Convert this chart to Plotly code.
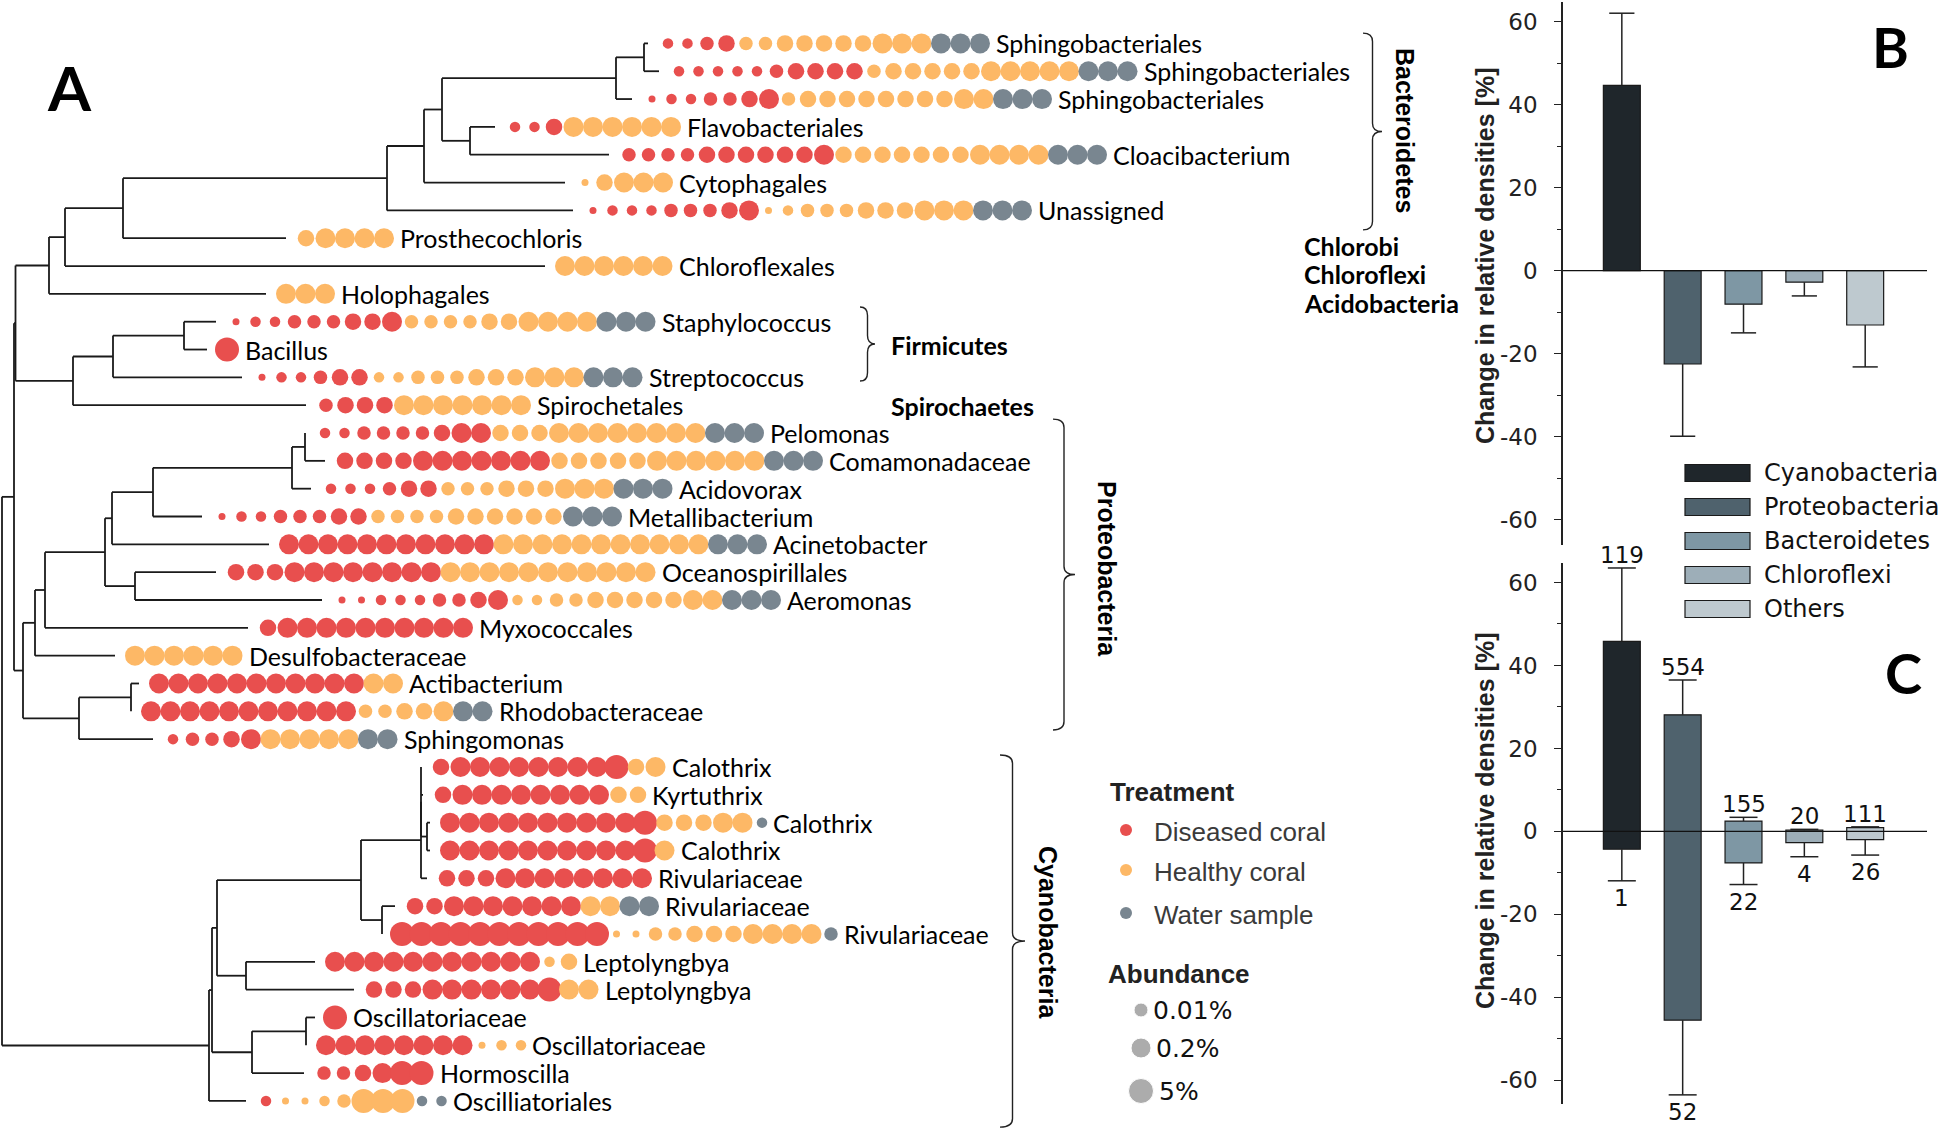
import plotly.graph_objects as go

W, H = 1946, 1129

# ---------------- Panel A data ----------------
leaf_names = ["Sphingobacteriales", "Sphingobacteriales", "Sphingobacteriales", "Flavobacteriales",
              "Cloacibacterium", "Cytophagales", "Unassigned", "Prosthecochloris", "Chloroflexales",
              "Holophagales", "Staphylococcus", "Bacillus", "Streptococcus", "Spirochetales",
              "Pelomonas", "Comamonadaceae", "Acidovorax", "Metallibacterium", "Acinetobacter",
              "Oceanospirillales", "Aeromonas", "Myxococcales", "Desulfobacteraceae", "Actibacterium",
              "Rhodobacteraceae", "Sphingomonas", "Calothrix", "Kyrtuthrix", "Calothrix", "Calothrix",
              "Rivulariaceae", "Rivulariaceae", "Rivulariaceae", "Leptolyngbya", "Leptolyngbya",
              "Oscillatoriaceae", "Oscillatoriaceae", "Hormoscilla", "Oscilliatoriales"]

# abundance classes per sample (1 = smallest ... 6 = largest), one string per leaf
diseased = ["2234", "2222234444", "1223345", "224", "33334444445", "", "122233345", "", "", "",
            "122333445", "6", "122344", "3444", "223333455", "44445555555", "222344", "12233344",
            "55555555555", "44455555555", "112223345", "45555555555", "", "55555555555",
            "55555555555", "23345", "4555555556", "455555555", "55555555556", "55555555556",
            "44455555555", "445555555", "66666666666", "55555555555", "4445555556", "6",
            "55555555", "334566", "2"]
healthy = ["3344444555", "34444455555", "34444444455", "555555", "44444445555", "14555",
           "12333444555", "45555", "555555", "555", "3333445555", "", "22333444555", "5555555",
           "44455555555", "44444555555", "333444555", "3333444444", "55555555555", "55555555555",
           "22334444455", "", "555555", "55", "33445", "55555", "45", "44", "44455", "5", "",
           "55", "11334445555", "24", "55", "", "122", "", "1123666"]
water = ["555", "555", "555", "", "555", "", "555", "", "", "", "555", "", "555", "", "555", "555",
         "555", "555", "555", "", "555", "", "", "", "55", "55", "", "", "2", "", "", "55", "3",
         "", "", "", "", "", "22"]

# tree: (depth, [children]) for nodes, (depth, leaf_index) for tips
TREE = (2, [
    (14, [
        (15.5, [
            (49, [
                (65, [
                    (123, [
                        (387, [
                            (424, [
                                (442, [
                                    (616, [
                                        (644, [(648, 0), (659, 1)]),
                                        (632, 2)]),
                                    (470, [(495, 3), (609, 4)])]),
                                (565, 5)]),
                            (573, 6)]),
                        (286, 7)]),
                    (545, 8)]),
                (266, 9)]),
            (73, [
                (113, [
                    (184, [(216, 10), (207, 11)]),
                    (242, 12)]),
                (306, 13)])]),
        (23, [
            (35, [
                (45, [
                    (105, [
                        (112, [
                            (153, [
                                (292, [
                                    (305, [(305, 14), (325, 15)]),
                                    (311, 16)]),
                                (202, 17)]),
                            (269, 18)]),
                        (135, [(216, 19), (322, 20)])]),
                    (248, 21)]),
                (115, 22)]),
            (79, [
                (131, [(139, 23), (131, 24)]),
                (153, 25)])])]),
    (209, [
        (212, [
            (217, [
                (361, [
                    (421, [
                        (421, [(421, 26), (423, 27), (427, [(430, 28), (430, 29)])]),
                        (427, 30)]),
                    (382, [(395, 31), (382, 32)])]),
                (246, [(315, 33), (354, 34)])]),
            (252, [
                (306, [(315, 35), (306, 36)]),
                (304, 37)])]),
        (246, 38)])])

clades = [("Bacteroidetes", -0.37, 6.70), ("Firmicutes", 9.47, 12.13),
          ("Proteobacteria", 13.5, 24.67), ("Cyanobacteria", 25.57, 38.94)]

# ---------------- Panel B / C data ----------------
groups = ["Cyanobacteria", "Proteobacteria", "Bacteroidetes", "Chloroflexi", "Others"]
group_colors = ["#1F262B", "#4F626D", "#7E97A4", "#9DAEB8", "#BEC9CF"]
b_change = [44.6, -22.5, -8.1, -2.8, -13.1]
b_whisker = [62.0, -39.9, -15.0, -6.1, -23.2]

c_high = [45.8, 28.1, 2.5, 0.3, 0.9]
c_low = [-4.3, -45.5, -7.6, -2.7, -2.0]
c_whisk_hi = [63.5, 36.5, 3.4, 0.5, 1.1]
c_whisk_lo = [-11.9, -63.5, -12.8, -6.1, -5.7]
c_n_hi = ["119", "554", "155", "20", "111"]
c_n_lo = ["1", "52", "22", "4", "26"]

# ---------------- styling constants ----------------
COL_D, COL_H, COL_W = "#E84F4E", "#FDB866", "#798690"
SIZE = {"1": 7, "2": 10.5, "3": 13.5, "4": 16.5, "5": 20, "6": 24}
DOT_GAP, DOT_STEP = 20, 19.5
ROW0, ROWSTEP = 43.4, 27.83
LINE = "#1A1A1A"

fig = go.Figure()

# ---- tree ----
tx, ty = [], []
tip = {}


def walk(node, parent_x):
    x, kids = node
    if isinstance(kids, int):
        y = kids
        tip[kids] = x
    else:
        ys = [walk(k, x) for k in kids]
        y = (ys[0] + ys[-1]) / 2
        tx.extend([x, x, None]); ty.extend([ys[0], ys[-1], None])
    if parent_x is not None:
        tx.extend([parent_x, x, None]); ty.extend([y, y, None])
    return y


walk(TREE, None)
fig.add_trace(go.Scatter(x=tx, y=ty, mode="lines", line=dict(color=LINE, width=1.8),
                         hoverinfo="skip", showlegend=False, xaxis="x", yaxis="y"))

# ---- dots ----
pts = {COL_D: ([], [], []), COL_H: ([], [], []), COL_W: ([], [], [])}
annotations = []
for i, name in enumerate(leaf_names):
    slots = [(COL_D, c) for c in diseased[i]] + [(COL_H, c) for c in healthy[i]] + \
            [(COL_W, c) for c in water[i]]
    last_x, last_s = tip[i], 0
    for k, (col, code) in enumerate(slots):
        x = tip[i] + DOT_GAP + k * DOT_STEP
        if code == "0":
            continue
        pts[col][0].append(x); pts[col][1].append(i); pts[col][2].append(SIZE[code])
        last_x, last_s = x, SIZE[code]
    annotations.append(dict(x=last_x + last_s / 2 + 4, y=i, xref="x", yref="y", text=name,
                            showarrow=False, xanchor="left", yanchor="middle",
                            font=dict(family="Lato", size=25, color="#000")))
for col, (xs, ys, ss) in pts.items():
    fig.add_trace(go.Scatter(x=xs, y=ys, mode="markers",
                             marker=dict(color=col, size=ss, opacity=1, line=dict(width=0)),
                             hoverinfo="skip", showlegend=False, xaxis="x", yaxis="y"))

# ---- clade braces ----
shapes = []
brace_x = {"Bacteroidetes": (1363, 19), "Firmicutes": (860, 15),
           "Proteobacteria": (1053, 22), "Cyanobacteria": (1000, 25)}
for name, r0, r1 in clades:
    x0, w = brace_x[name]
    xm, xp = x0 + w / 2, x0 + w
    ym = (r0 + r1) / 2
    r = 0.3
    path = (f"M {x0},{r0} Q {xm},{r0} {xm},{r0 + r} L {xm},{ym - r} Q {xm},{ym} {xp},{ym} "
            f"Q {xm},{ym} {xm},{ym + r} L {xm},{r1 - r} Q {xm},{r1} {x0},{r1}")
    shapes.append(dict(type="path", path=path, xref="x", yref="y",
                       line=dict(color="#222", width=1.4)))


def ann(x, y, text, size, family, color="#000", xanchor="left", yanchor="middle", angle=0,
        bold=False, xref="x", yref="y4"):
    annotations.append(dict(x=x, y=y, xref=xref, yref=yref, text=f"<b>{text}</b>" if bold else text,
                            showarrow=False, xanchor=xanchor, yanchor=yanchor, textangle=angle,
                            font=dict(family=family, size=size, color=color)))


ann(1405, 130, "Bacteroidetes", 25, "Liberation Sans", xanchor="center", angle=90, bold=True)
ann(1107, 569, "Proteobacteria", 25, "Liberation Sans", xanchor="center", angle=90, bold=True)
ann(1048, 932, "Cyanobacteria", 25, "Liberation Sans", xanchor="center", angle=90, bold=True)
ann(1302, 246, "Chlorobi", 25, "Lato", bold=True)
ann(1302, 274, "Chloroflexi", 25, "Lato", bold=True)
ann(1302, 303, "Acidobacteria", 25, "Lato", bold=True)
ann(889, 345, "Firmicutes", 25, "Lato", bold=True)
ann(889, 406, "Spirochaetes", 25, "Lato", bold=True)

# ---- panel A legend ----
ann(1108, 792, "Treatment", 26, "Liberation Sans", color="#222", bold=True)
ann(1106, 974, "Abundance", 26, "Liberation Sans", color="#222", bold=True)
leg_items = [("Diseased coral", COL_D, 830), ("Healthy coral", COL_H, 870), ("Water sample", COL_W, 913)]
fig.add_trace(go.Scatter(x=[1126] * 3, y=[it[2] for it in leg_items], mode="markers",
                         marker=dict(color=[it[1] for it in leg_items], size=12),
                         hoverinfo="skip", showlegend=False, xaxis="x", yaxis="y4"))
for text, _, y in leg_items:
    ann(1152, y + 2, text, 26, "Liberation Sans", color="#3A3A3A")
ab_items = [("0.01%", 14, 1010), ("0.2%", 20, 1048), ("5%", 25, 1091)]
fig.add_trace(go.Scatter(x=[1141] * 3, y=[it[2] for it in ab_items], mode="markers",
                         marker=dict(color="#8A8A8A", size=[it[1] for it in ab_items]),
                         hoverinfo="skip", showlegend=False, xaxis="x", yaxis="y4"))
for text, s, y in ab_items:
    ann(1141 + s / 2 + 3, y, text, 25, "DejaVu Sans", color="#111")

# panel letters
ann(69, 87, "A", 62, "Lato", xanchor="center", bold=True)
ann(1890, 46, "B", 56, "Lato", xanchor="center", bold=True)
ann(1903, 672, "C", 56, "Lato", xanchor="center", bold=True)

# ---------------- Panel B ----------------
idx = list(range(len(groups)))
BW = 0.607
fig.add_trace(go.Bar(x=idx, y=b_change, width=BW, marker=dict(color=group_colors,
                     line=dict(color="#1A1A1A", width=1.2)), showlegend=False,
                     hoverinfo="skip", xaxis="x2", yaxis="y2"))
wx, wy = [], []
for i, (v, w) in enumerate(zip(b_change, b_whisker)):
    wx += [i, i, None]; wy += [v, w, None]
fig.add_trace(go.Scatter(x=wx, y=wy, mode="lines", line=dict(color="#222", width=1.5),
                         hoverinfo="skip", showlegend=False, xaxis="x2", yaxis="y2"))
fig.add_trace(go.Scatter(x=idx, y=b_whisker, mode="markers",
                         marker=dict(symbol="line-ew", size=18, line=dict(color="#222", width=1.5)),
                         hoverinfo="skip", showlegend=False, xaxis="x2", yaxis="y2"))

# ---------------- Panel C ----------------
fig.add_trace(go.Bar(x=idx, y=[h - l for h, l in zip(c_high, c_low)], base=c_low, width=BW,
                     marker=dict(color=group_colors, line=dict(color="#1A1A1A", width=1.2)),
                     showlegend=False, hoverinfo="skip", xaxis="x3", yaxis="y3"))
wx, wy = [], []
for i in idx:
    wx += [i, i, None, i, i, None]
    wy += [c_high[i], c_whisk_hi[i], None, c_low[i], c_whisk_lo[i], None]
fig.add_trace(go.Scatter(x=wx, y=wy, mode="lines", line=dict(color="#222", width=1.5),
                         hoverinfo="skip", showlegend=False, xaxis="x3", yaxis="y3"))
fig.add_trace(go.Scatter(x=idx + idx, y=c_whisk_hi + c_whisk_lo, mode="markers",
                         marker=dict(symbol="line-ew", size=20, line=dict(color="#222", width=1.5)),
                         hoverinfo="skip", showlegend=False, xaxis="x3", yaxis="y3"))
for i in idx:
    annotations.append(dict(x=i, y=c_whisk_hi[i], xref="x3", yref="y3", text=c_n_hi[i],
                            showarrow=False, xanchor="center", yanchor="bottom", yshift=-2,
                            font=dict(family="DejaVu Sans", size=23, color="#111")))
    annotations.append(dict(x=i, y=c_whisk_lo[i], xref="x3", yref="y3", text=c_n_lo[i],
                            showarrow=False, xanchor="center", yanchor="top", yshift=-2,
                            font=dict(family="DejaVu Sans", size=23, color="#111")))

# zero lines
for ya, xa in (("y2", "x2"), ("y3", "x3")):
    shapes.append(dict(type="line", xref=f"{xa} domain", x0=0, x1=1, yref=ya, y0=0, y1=0,
                       line=dict(color="#111", width=1.3), layer="above"))

# panel B legend (boxes + names)
for k, (g, c) in enumerate(zip(groups, group_colors)):
    yc = 473 + k * 34
    shapes.append(dict(type="rect", xref="x", yref="y4", x0=1685, x1=1750, y0=yc - 8.5, y1=yc + 8.5,
                       fillcolor=c, line=dict(color="#1A1A1A", width=1.2)))
    ann(1762, yc, g, 24, "DejaVu Sans", color="#111")

# y-axis titles
for yc in (256, 821):
    annotations.append(dict(x=1485 / W, y=1 - yc / H, xref="paper", yref="paper",
                            text="<b>Change in relative densities [%]</b>", showarrow=False,
                            textangle=-90, xanchor="center", yanchor="middle",
                            font=dict(family="Liberation Sans", size=25, color="#222")))

tickvals = [-60, -40, -20, 0, 20, 40, 60]
yax_common = dict(tickmode="array", tickvals=tickvals, ticktext=[str(v) for v in tickvals],
                  ticks="outside", ticklen=7, tickwidth=1.3, tickcolor="#222",
                  showline=True, linecolor="#222", linewidth=1.5, showgrid=False, zeroline=False,
                  tickfont=dict(family="DejaVu Sans", size=23, color="#222"),
                  ticklabelstandoff=12,
                  minor=dict(tickmode="array", tickvals=[-50, -30, -10, 10, 30, 50], ticks="outside",
                             ticklen=4, tickwidth=1.2, tickcolor="#222"))
xdom = [1563 / W, 1927 / W]
xrng = [-0.967, 5.016]

fig.update_layout(
    width=W, height=H, margin=dict(l=0, r=0, t=0, b=0),
    paper_bgcolor="white", plot_bgcolor="rgba(0,0,0,0)", showlegend=False,
    xaxis=dict(domain=[0, 1], range=[0, W], visible=False, fixedrange=True),
    yaxis=dict(domain=[0, 1], range=[(H - ROW0) / ROWSTEP, -ROW0 / ROWSTEP], visible=False),
    yaxis4=dict(domain=[0, 1], range=[H, 0], visible=False, overlaying="y", anchor="x"),
    xaxis2=dict(domain=xdom, range=xrng, visible=False, anchor="y2"),
    yaxis2=dict(domain=[1 - 545 / H, 1 - 2 / H], range=[-66.1, 64.7], anchor="x2", **yax_common),
    xaxis3=dict(domain=xdom, range=xrng, visible=False, anchor="y3"),
    yaxis3=dict(domain=[1 - 1104 / H, 1 - 563 / H], range=[-65.7, 64.7], anchor="x3", **yax_common),
    shapes=shapes, annotations=annotations,
)

fig.write_html("out.html", config={"displayModeBar": False},
               post_script="document.body.style.margin='0px';document.body.style.overflow='hidden';")
